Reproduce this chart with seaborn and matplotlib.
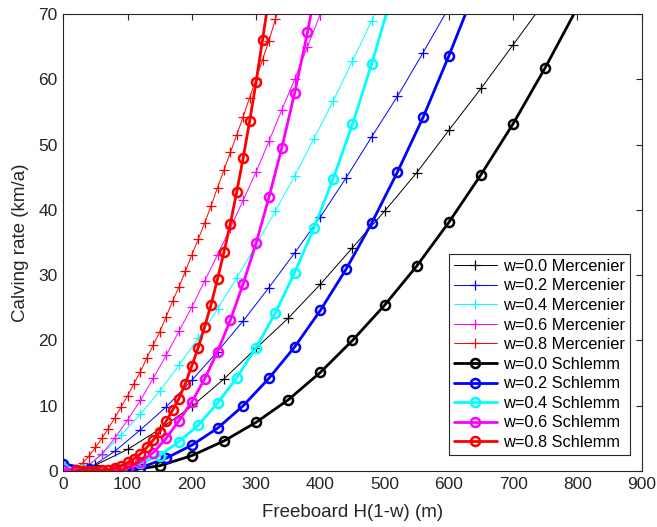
import numpy as np
import pandas as pd
import matplotlib
matplotlib.use("Agg")
import matplotlib.pyplot as plt
import seaborn as sns

# freeboard grids (m) for each w; H sampled every 50 m, freeboard = H(1-w)
fb_merc_00 = np.arange(50, 800, 50)
fb_merc_02 = np.arange(40, 640, 40)
fb_merc_04 = np.arange(30, 540, 30)
fb_merc_06 = np.arange(20, 420, 20)
fb_merc_08 = np.arange(20, 350, 10)

fb_schl_00 = np.arange(50, 850, 50)
fb_schl_02 = np.arange(0, 680, 40)
fb_schl_04 = np.arange(0, 540, 30)
fb_schl_06 = np.arange(0, 420, 20)
fb_schl_08 = np.arange(20, 330, 10)

# calving rate (km/a)
merc_00 = [0.9, 3.3, 6.4, 9.9, 14.1, 18.8, 23.4, 28.6, 34.2, 39.8, 45.7, 52.2, 58.6, 65.3, 72.0]
merc_02 = [0.4, 3.0, 6.3, 9.8, 13.9, 18.3, 23.0, 28.1, 33.4, 38.9, 44.9, 51.2, 57.4, 64.1, 71.0]
merc_04 = [0.3, 2.5, 5.5, 8.7, 12.25, 16.2, 20.3, 24.8, 29.6, 34.6, 39.8, 45.2, 50.9, 56.7, 62.8,
           69.0, 75.2]
merc_06 = [0.1, 0.9, 2.6, 5.0, 7.8, 10.8, 14.2, 17.7, 21.4, 25.1, 29.1, 33.1, 37.2, 41.5, 45.8,
           50.5, 55.3, 60.0, 65.0, 70.0]
merc_08 = [0.2, 1.2, 2.3, 3.6, 5.0, 6.5, 8.1, 9.8, 11.5, 13.4, 15.2, 17.3, 19.3, 21.3, 23.6,
           26.0, 28.2, 30.6, 33.1, 35.5, 38.0, 40.6, 43.4, 46.1, 48.8, 51.5, 54.3, 57.2, 60.0,
           63.0, 65.9, 69.2, 72.5]

schl_00 = [0.0, 0.05, 0.8, 2.35, 4.6, 7.45, 10.9, 15.1, 20.0, 25.4, 31.4, 38.1, 45.4, 53.2, 61.8, 71.0]
schl_02 = [1.1, 0.3, 0.0, 0.5, 1.95, 3.95, 6.55, 10.0, 14.2, 19.0, 24.6, 30.9, 38.0, 45.8, 54.2,
           63.6, 73.5]
schl_04 = [0.5, 0.1, 0.0, 0.3, 1.2, 2.35, 4.5, 7.0, 10.4, 14.3, 18.9, 24.2, 30.4, 37.2, 44.8,
           53.1, 62.4, 72.5]
schl_06 = [0.2, 0.2, 0.0, 0.0, 0.1, 0.4, 1.4, 2.8, 5.0, 7.7, 10.6, 14.1, 18.3, 23.1, 28.7, 34.9,
           41.9, 49.5, 57.9, 67.2, 77.5]
schl_08 = [0.1, 0.0, 0.0, 0.0, 0.1, 0.2, 0.4, 0.8, 1.3, 1.9, 2.6, 3.6, 4.75, 6.0, 7.6, 9.3, 11.1,
           13.4, 16.1, 18.9, 22.1, 25.5, 29.4, 33.5, 37.9, 42.8, 48.0, 53.6, 59.6, 66.0, 72.6]

w_labels = ["0.0", "0.2", "0.4", "0.6", "0.8"]
colors = ["#000000", "#0000ff", "#00ffff", "#ff00ff", "#ff0000"]

merc = [(fb_merc_00, merc_00), (fb_merc_02, merc_02), (fb_merc_04, merc_04),
        (fb_merc_06, merc_06), (fb_merc_08, merc_08)]
schl = [(fb_schl_00, schl_00), (fb_schl_02, schl_02), (fb_schl_04, schl_04),
        (fb_schl_06, schl_06), (fb_schl_08, schl_08)]

sns.set_style("white")
plt.rcParams['font.family'] = ['Liberation Sans', 'DejaVu Sans']
text_col = "#262626"

fig = plt.figure(figsize=(6.57, 5.27), dpi=100)
ax = fig.add_axes([0.0963, 0.1063, 0.8804, 0.8671])

for (fb, vals), w, c in zip(merc, w_labels, colors):
    df = pd.DataFrame({"fb": fb, "rate": vals})
    sns.lineplot(data=df, x="fb", y="rate", ax=ax, color=c, lw=0.7,
                 marker="+", markersize=7.5, markeredgewidth=0.9, markeredgecolor=c,
                 label=f"w={w} Mercenier")

for (fb, vals), w, c in zip(schl, w_labels, colors):
    df = pd.DataFrame({"fb": fb, "rate": vals})
    sns.lineplot(data=df, x="fb", y="rate", ax=ax, color=c, lw=2.0,
                 marker="o", markersize=6.5, markeredgewidth=1.8, markeredgecolor=c,
                 markerfacecolor="none", label=f"w={w} Schlemm")

ax.set_xlim(0, 900)
ax.set_ylim(0, 70)
ax.set_xticks(range(0, 901, 100))
ax.set_yticks(range(0, 71, 10))
ax.tick_params(direction="in", length=4, width=0.8, top=True, right=True,
               labelsize=12.5, colors=text_col, labelcolor=text_col, pad=4)
for s in ax.spines.values():
    s.set_color(text_col)
    s.set_linewidth(0.8)
    s.set_visible(True)

ax.set_xlabel("Freeboard H(1-w) (m)", fontsize=13.5, color=text_col, labelpad=9)
ax.set_ylabel("Calving rate (km/a)", fontsize=13.5, color=text_col, labelpad=7)

leg = ax.legend(loc="lower right", bbox_to_anchor=(0.98, 0.035), borderaxespad=0,
                fontsize=11.8, frameon=True, fancybox=False, framealpha=1,
                edgecolor=text_col, handlelength=2.6, handletextpad=0.4,
                labelspacing=0.28, borderpad=0.3)
leg.get_frame().set_linewidth(0.8)
for t in leg.get_texts():
    t.set_color("#000000")

fig.savefig("out.png", dpi=100)
